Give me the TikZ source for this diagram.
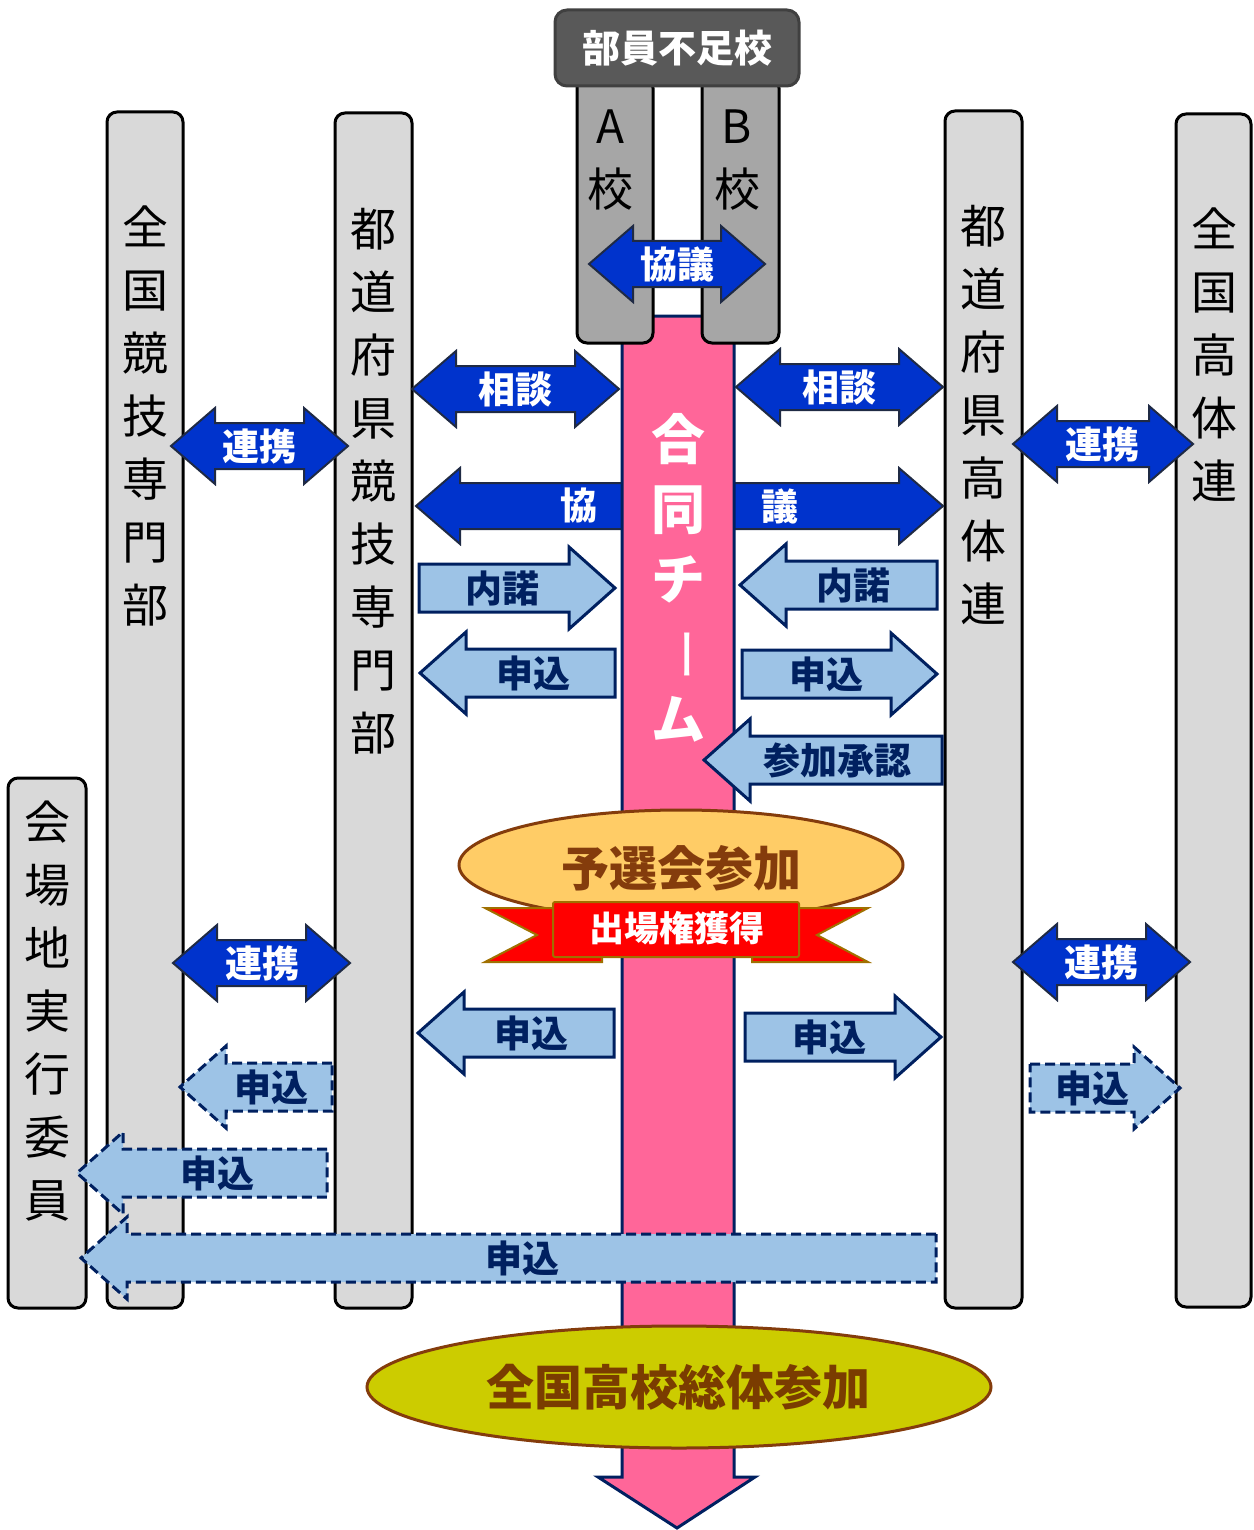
\documentclass[tikz,border=0pt]{standalone}
\usepackage{fontspec}
\setmainfont{Noto Sans CJK JP}

\definecolor{colgray}{HTML}{D9D9D9}
\definecolor{schoolgray}{HTML}{A6A6A6}
\definecolor{boxgray}{HTML}{595959}
\definecolor{boxedge}{HTML}{404040}
\definecolor{deepblue}{HTML}{0033CC}
\definecolor{deepedge}{HTML}{1F2A44}
\definecolor{paleblue}{HTML}{9DC3E6}
\definecolor{navy}{HTML}{002060}
\definecolor{teampink}{HTML}{FF6699}
\definecolor{gold}{HTML}{FFCC66}
\definecolor{rimbrown}{HTML}{843C0C}
\definecolor{finalolive}{HTML}{CCCC00}
\definecolor{finaltext}{HTML}{7A3C00}
\definecolor{ribbonred}{HTML}{FF0000}
\definecolor{ribbonedge}{HTML}{A07000}

% right-pointing block arrow: [style] tail x, tip x, mid y
\newcommand{\arrowR}[4][]{%
  \draw[#1] (#2,#4-24) -- (#3-46,#4-24) -- (#3-46,#4-41) -- (#3,#4)
    -- (#3-46,#4+41) -- (#3-46,#4+24) -- (#2,#4+24) -- cycle;}
% left-pointing block arrow: [style] tip x, tail x, mid y
\newcommand{\arrowL}[4][]{%
  \draw[#1] (#3,#4-24) -- (#2+46,#4-24) -- (#2+46,#4-41) -- (#2,#4)
    -- (#2+46,#4+41) -- (#2+46,#4+24) -- (#3,#4+24) -- cycle;}
% double block arrow: [style] left tip x, right tip x, mid y
\newcommand{\arrowLR}[4][]{%
  \draw[#1] (#2,#4) -- (#2+44,#4-38) -- (#2+44,#4-23) -- (#3-44,#4-23)
    -- (#3-44,#4-38) -- (#3,#4) -- (#3-44,#4+38) -- (#3-44,#4+23)
    -- (#2+44,#4+23) -- (#2+44,#4+38) -- cycle;}

\begin{document}
\begin{tikzpicture}[
    x=1pt,y=-1pt,
    column/.style={fill=colgray,draw=black,line width=3pt,rounded corners=10pt},
    coltext/.style={align=center,inner sep=0pt,
        font={\fontsize{46}{63}\selectfont}},
    school/.style={fill=schoolgray,draw=black,line width=3pt,rounded corners=10pt},
    darrow/.style={fill=deepblue,draw=deepedge,line width=2pt},
    larrow/.style={fill=paleblue,draw=navy,line width=3pt},
    dasharrow/.style={larrow,dash pattern=on 10pt off 5pt},
    wlabel/.style={text=white,inner sep=0pt,
        font={\bfseries\fontsize{37}{40}\selectfont}},
    nlabel/.style={text=navy,inner sep=0pt,
        font={\bfseries\fontsize{37}{40}\selectfont}},
    teamtext/.style={text=white,inner sep=0pt,
        font={\bfseries\fontsize{54}{60}\selectfont}},
    ]
    \useasboundingbox (0,0) rectangle (1253,1530);

    % Columns
    \draw[column] (107,112) rectangle (183,1308);
    \draw[column] (335,113) rectangle (412,1308);
    \draw[column] (945,111) rectangle (1022,1308);
    \draw[column] (1176,114) rectangle (1251,1307);
    \draw[column] (8,778) rectangle (86,1308);
    \node[coltext] (zenkyo) at (145,416) {全\\国\\競\\技\\専\\門\\部};
    \node[coltext] (kenkyo) at (373,481) {都\\道\\府\\県\\競\\技\\専\\門\\部};
    \node[coltext] (kenkotai) at (983,415) {都\\道\\府\\県\\高\\体\\連};
    \node[coltext] (zenkotai) at (1214,355) {全\\国\\高\\体\\連};
    \node[coltext] (kaijo) at (47,1011) {会\\場\\地\\実\\行\\委\\員};

    % Split arrow behind the team
    \arrowLR[darrow]{416}{943}{506}
    \node[wlabel] (kyoL) at (579,506) {協};
    \node[wlabel] (giR) at (780,506) {議};

    % Team arrow
    \draw[fill=teampink,draw=navy,line width=3pt] (622,316) -- (734,316)
        -- (734,1477) -- (755,1477) -- (677,1528) -- (598,1477)
        -- (622,1477) -- cycle;
    \foreach \c/\y in {合/439,同/510,チ/579,ム/719}
        \node[teamtext] (team\y) at (678,\y) {\c};
    \node[teamtext,font={\mdseries\fontsize{54}{60}\selectfont},rotate=-90]
        (teambar) at (678,654) {ー};

    % Schools
    \draw[school] (577,78) rectangle (653,343);
    \draw[school] (702,78) rectangle (779,343);
    \node[coltext] (schoolA) at (610,160) {A\\校};
    \node[coltext] (schoolB) at (737,160) {B\\校};
    \draw[fill=boxgray,draw=boxedge,line width=3pt,rounded corners=12pt]
        (555,10) rectangle (799,86);
    \node[text=white,inner sep=0pt,font={\bfseries\fontsize{38}{40}\selectfont}]
        (shortage) at (677,48) {部員不足校};
    \arrowLR[darrow]{589}{765}{264}
    \node[wlabel] (kyogi) at (677,264) {協議};

    % Consultation
    \arrowLR[darrow]{412}{619}{389}
    \node[wlabel] (sodanL) at (515,389) {相談};
    \arrowLR[darrow]{736}{943}{387}
    \node[wlabel] (sodanR) at (839,387) {相談};

    % Cooperation
    \arrowLR[darrow]{171}{348}{446}
    \node[wlabel] (renkeiA) at (259,446) {連携};
    \arrowLR[darrow]{1013}{1193}{444}
    \node[wlabel] (renkeiB) at (1102,444) {連携};
    \arrowLR[darrow]{173}{350}{963}
    \node[wlabel] (renkeiC) at (262,963) {連携};
    \arrowLR[darrow]{1013}{1190}{962}
    \node[wlabel] (renkeiD) at (1101,962) {連携};

    % Consent and entry
    \arrowR[larrow]{419}{615}{588}
    \node[nlabel] (naidakuL) at (502,588) {内諾};
    \arrowL[larrow]{740}{937}{585}
    \node[nlabel] (naidakuR) at (853,585) {内諾};
    \arrowL[larrow]{420}{615}{673}
    \node[nlabel] (entryA) at (533,673) {申込};
    \arrowR[larrow]{742}{937}{674}
    \node[nlabel] (entryB) at (826,674) {申込};
    \arrowL[larrow]{704}{942}{760}
    \node[nlabel] (approval) at (837,760) {参加承認};

    % Qualifier
    \draw[fill=gold,draw=rimbrown,line width=3pt] (681,865) ellipse [x radius=222,y radius=55];
    \node[text=rimbrown,inner sep=0pt,font={\bfseries\fontsize{48}{50}\selectfont}]
        (yosen) at (681,868) {予選会参加};

    % Ribbon
    \draw[fill=ribbonred,draw=ribbonedge,line width=2pt] (485,908) -- (602,908)
        -- (602,962) -- (485,962) -- (537,935) -- cycle;
    \draw[fill=ribbonred,draw=ribbonedge,line width=2pt] (868,908) -- (752,908)
        -- (752,962) -- (868,962) -- (817,935) -- cycle;
    \draw[fill=ribbonred,draw=ribbonedge,line width=2pt,rounded corners=2pt]
        (553,902) rectangle (799,957);
    \node[text=white,inner sep=0pt,font={\bfseries\fontsize{35}{38}\selectfont}]
        (ticket) at (677,928) {出場権獲得};

    % Entries after qualifying
    \arrowL[larrow]{418}{614}{1033}
    \node[nlabel] (entryC) at (531,1033) {申込};
    \arrowR[larrow]{745}{941}{1037}
    \node[nlabel] (entryD) at (829,1037) {申込};
    \arrowL[dasharrow]{180}{332}{1087}
    \node[nlabel] (entryE) at (271,1087) {申込};
    \arrowR[dasharrow]{1030}{1180}{1088}
    \node[nlabel] (entryF) at (1092,1088) {申込};
    \arrowL[dasharrow]{77}{327}{1173}
    \node[nlabel] (entryG) at (217,1173) {申込};
    \arrowL[dasharrow]{81}{936}{1258}
    \node[nlabel] (entryH) at (522,1258) {申込};

    % National meet
    \draw[fill=finalolive,draw=rimbrown,line width=3pt] (679,1387) ellipse [x radius=312,y radius=61];
    \node[text=finaltext,inner sep=0pt,font={\bfseries\fontsize{48}{50}\selectfont}]
        (soutai) at (678,1387) {全国高校総体参加};

\end{tikzpicture}
\end{document}
